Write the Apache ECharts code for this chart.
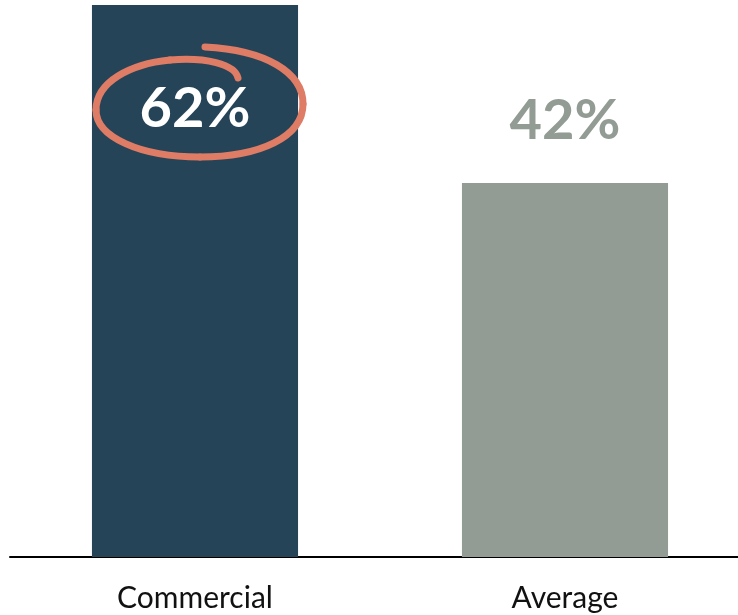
<!DOCTYPE html>
<html><head><meta charset="utf-8">
<script src="https://cdn.jsdelivr.net/npm/echarts@6/dist/echarts.min.js"></script>
<style>html,body{margin:0;padding:0;background:#fff}#c{width:738px;height:615px}</style>
</head><body><div id="c"></div>
<script>
const categories = ['Commercial', 'Average'];
const values = [62, 42];
const valueLabels = ['62%', '42%'];

const chart = echarts.init(document.getElementById('c'));
const FONT = 'Lato';
chart.setOption({
  animation: false,
  grid: { left: 10, right: -12, top: 5, bottom: 58, outerBoundsMode: 'none', containLabel: false },
  xAxis: {
    type: 'category', data: categories,
    axisLine: { lineStyle: { color: '#000', width: 2 } },
    axisTick: { show: false },
    axisLabel: { color: '#111', fontFamily: FONT, fontSize: 30, margin: 26 }
  },
  yAxis: { type: 'value', min: 0, max: 62, show: false, splitLine: { show: false } },
  series: [{
    type: 'bar', barWidth: '55.7%',
    data: [
      { value: values[0], itemStyle: { color: '#264457' },
        label: { show: true, position: 'insideTop', distance: 76, formatter: valueLabels[0], color: '#fff', fontFamily: FONT, fontWeight: 'bold', fontSize: 56, lineHeight: 56 } },
      { value: values[1], itemStyle: { color: '#939b95' },
        label: { show: true, position: 'top', distance: 34, formatter: valueLabels[1], color: '#939b95', fontFamily: FONT, fontWeight: 'bold', fontSize: 56, lineHeight: 56 } }
    ]
  }]
});
const p = chart.convertToPixel({ gridIndex: 0 }, [0, values[0]]);
// hand-drawn loop as cubic segments: [x0,y0, c1x,c1y, c2x,c2y, x1,y1] relative to loop center
const segs = [
  [6,-60, 66,-57, 104,-35, 104,-3],
  [104,-3, 104,30, 61,50, 1,50],
  [1,50, -59,50, -103,30, -103,3],
  [-103,3, -103,-25, -69,-43, -29,-47],
  [-29,-47, 6,-50, 36,-43, 39,-29]
];
const style = { fill: null, stroke: '#de7c66', lineWidth: 7, lineCap: 'round' };
chart.setOption({
  graphic: [{
    type: 'group', x: p[0] + 4, y: p[1] + 102, z: 100,
    children: segs.map(s => ({
      type: 'bezierCurve', z: 100,
      shape: { x1: s[0], y1: s[1], cpx1: s[2], cpy1: s[3], cpx2: s[4], cpy2: s[5], x2: s[6], y2: s[7] },
      style: style
    }))
  }]
});
</script></body></html>
